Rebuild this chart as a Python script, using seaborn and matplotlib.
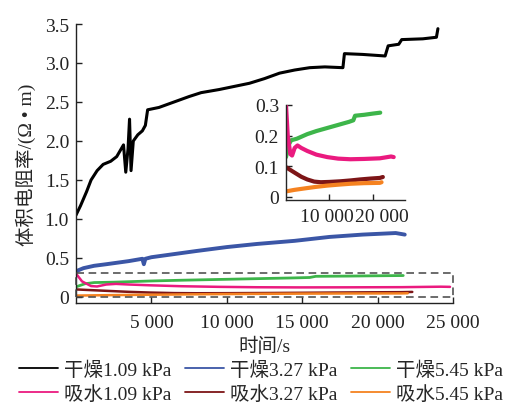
import matplotlib
matplotlib.use("Agg")
import matplotlib.pyplot as plt
from matplotlib.lines import Line2D
from matplotlib.patches import Rectangle
from matplotlib.ticker import FuncFormatter
import matplotlib.transforms as mtrans
import seaborn as sns

# ---- data ----
t_dry109 = [0, 300, 700, 1000, 1400, 1800, 2300, 2700, 3000, 3150, 3300, 3450, 3550, 3650,
            3800, 4100, 4400, 4600, 4750, 5500, 6500, 7500, 8300, 9500, 10500, 11500, 12500,
            13500, 14500, 15500, 16500, 17700, 17800, 19000, 20500, 20700, 21400, 21600,
            23000, 23900, 24000]
v_dry109 = [1.05, 1.17, 1.35, 1.50, 1.62, 1.70, 1.74, 1.80, 1.90, 1.95, 1.60, 1.90, 2.28, 1.62,
            2.00, 2.08, 2.13, 2.20, 2.40, 2.43, 2.50, 2.57, 2.62, 2.66, 2.70, 2.74, 2.80,
            2.87, 2.91, 2.94, 2.95, 2.94, 3.12, 3.11, 3.09, 3.22, 3.24, 3.30,
            3.31, 3.33, 3.44]

t_dry327 = [0, 500, 1200, 2000, 3500, 4400, 4500, 4600, 5000, 6500, 8000, 10000, 12000,
            14500, 16800, 19000, 21200, 21800]
v_dry327 = [0.33, 0.37, 0.40, 0.42, 0.46, 0.49, 0.42, 0.49, 0.51, 0.55, 0.59, 0.64, 0.68,
            0.72, 0.77, 0.80, 0.82, 0.80]

t_dry545 = [0, 600, 1200, 2500, 4900, 7000, 9500, 12000, 14500, 15500, 15900, 18000, 20000, 21700]
v_dry545 = [0.13, 0.17, 0.185, 0.19, 0.205, 0.215, 0.225, 0.235, 0.245, 0.25, 0.265, 0.268,
            0.272, 0.275]

t_wet109 = [0, 400, 1000, 1400, 2000, 2650, 3500, 4900, 7000, 9500, 12000, 14800, 18000,
            21600, 24200, 24800]
v_wet109 = [0.30, 0.20, 0.14, 0.135, 0.16, 0.168, 0.16, 0.15, 0.138, 0.13, 0.125, 0.123,
            0.124, 0.126, 0.132, 0.13]

t_wet327 = [0, 1000, 1900, 3500, 4900, 6500, 8000, 10000, 12500, 15000, 17000, 19500, 21600, 22300]
v_wet327 = [0.097, 0.088, 0.08, 0.066, 0.057, 0.05, 0.048, 0.049, 0.051, 0.054, 0.057, 0.06,
            0.062, 0.065]

t_wet545 = [0, 1900, 4900, 7000, 9500, 12000, 14800, 18000, 21600, 22000]
v_wet545 = [0.018, 0.023, 0.029, 0.033, 0.037, 0.04, 0.043, 0.045, 0.046, 0.048]

labels = ["干燥1.09 kPa", "干燥3.27 kPa", "干燥5.45 kPa",
          "吸水1.09 kPa", "吸水3.27 kPa", "吸水5.45 kPa"]
colors = ["#000000", "#3b56a6", "#3db54a", "#ea1a7f", "#7d1517", "#f58220"]

main_yticks = [0, 0.5, 1.0, 1.5, 2.0, 2.5, 3.0, 3.5]
main_xticks = [5000, 10000, 15000, 20000, 25000]
inset_yticks = [0, 0.1, 0.2, 0.3]
inset_xticks = [10000, 20000]

series = [(t_dry109, v_dry109), (t_dry327, v_dry327), (t_dry545, v_dry545),
          (t_wet109, v_wet109), (t_wet327, v_wet327), (t_wet545, v_wet545)]

# ---- style ----
sns.set_theme(style="ticks")
plt.rcParams["font.family"] = ["Liberation Serif", "Noto Sans CJK SC", "DejaVu Sans"]
plt.rcParams["font.size"] = 14
plt.rcParams["xtick.direction"] = "in"
plt.rcParams["ytick.direction"] = "in"
plt.rcParams["axes.linewidth"] = 1.0

fig = plt.figure(figsize=(5.22, 4.06), dpi=100)
ax = fig.add_axes([76 / 522, 1 - 304 / 406, (453 - 76) / 522, (304 - 25) / 406])

main_lw = [2.2, 2.8, 2.0, 1.8, 1.8, 1.8]
for (t, v), c, lw in zip(series, colors, main_lw):
    sns.lineplot(x=t, y=v, ax=ax, color=c, lw=lw, legend=False)

ax.set_xlim(0, 25000)
ax.set_ylim(-0.077, 3.5)
ax.set_yticks(main_yticks)
ax.set_xticks(main_xticks)
fmt_thousand = FuncFormatter(lambda x, p: f"{int(round(x)):,}".replace(",", " "))
fmt_y = FuncFormatter(lambda y, p: "0" if abs(y) < 1e-9 else f"{y:.1f}")
ax.xaxis.set_major_formatter(fmt_thousand)
ax.yaxis.set_major_formatter(fmt_y)
ax.tick_params(labelsize=14, length=4, width=1, colors="#222222")
ax.tick_params(axis="x", pad=8)
ax.tick_params(axis="y", pad=5)
for s in ["top", "right"]:
    ax.spines[s].set_visible(False)
for s in ["left", "bottom"]:
    ax.spines[s].set_color("#222222")
ax.set_xlabel("时间/s", fontsize=14, labelpad=4)
ax.set_ylabel("体积电阻率/(Ω • m)", fontsize=14, labelpad=6)

rect = Rectangle((0, 0.005), 25000, 0.3, fill=False, ls=(0, (5, 3)), lw=1.1,
                 edgecolor="#444444", zorder=5, clip_on=False)
ax.add_patch(rect)

# ---- inset ----
ins = fig.add_axes([286 / 522, 1 - 201 / 406, (405 - 286) / 522, (201 - 106) / 406])
ins.patch.set_alpha(0)
for (t, v), c in zip(series[2:], colors[2:]):
    sns.lineplot(x=t, y=v, ax=ins, color=c, lw=3.0, legend=False)
ins.set_xlim(0, 27400)
ins.set_ylim(-0.01, 0.3)
ins.set_yticks(inset_yticks)
ins.set_xticks(inset_xticks)
ins.xaxis.set_major_formatter(fmt_thousand)
ins.yaxis.set_major_formatter(fmt_y)
ins.tick_params(labelsize=14, length=4, width=1, colors="#222222")
ins.tick_params(axis="x", pad=6)
ins.tick_params(axis="y", pad=5)
for s in ["top", "right"]:
    ins.spines[s].set_visible(False)
fig.canvas.draw()
shifts = [-3, 9]
for lab, dx in zip(ins.get_xticklabels(), shifts):
    lab.set_transform(lab.get_transform() + mtrans.ScaledTranslation(dx / 100, 0, fig.dpi_scale_trans))

# ---- legend ----
handles = [Line2D([], [], color=c, lw=1.3) for c in colors]
order = [0, 3, 1, 4, 2, 5]
fig.legend([handles[i] for i in order], [labels[i] for i in order], ncol=3,
           loc="lower center", bbox_to_anchor=(0.5, -0.024), frameon=False,
           fontsize=14, handlelength=2.0, handletextpad=0.3, columnspacing=0.7,
           labelspacing=0.32, borderaxespad=0.2)

fig.savefig("out.png", dpi=100)
